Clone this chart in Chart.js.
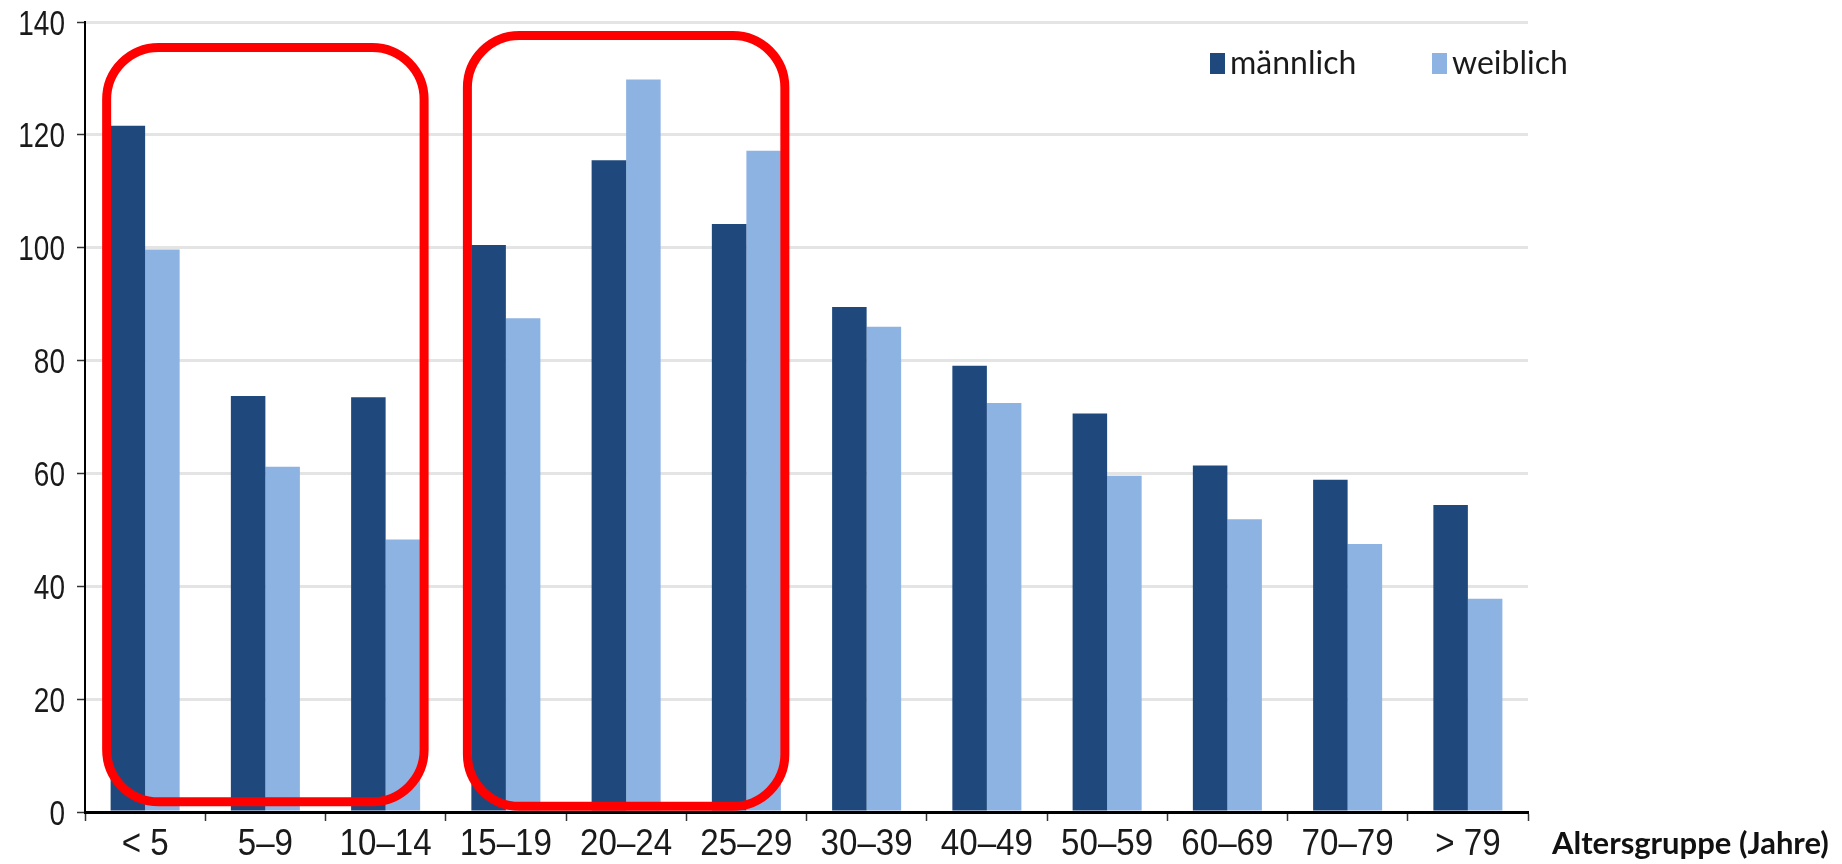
<!DOCTYPE html>
<html lang="de">
<head>
<meta charset="utf-8">
<title>Altersgruppe (Jahre)</title>
<script src="https://cdn.jsdelivr.net/npm/chart.js@4.4.1/dist/chart.umd.min.js"></script>
<style>
  html, body { margin: 0; padding: 0; background: #ffffff; }
  #wrap { position: relative; width: 1842px; height: 864px; }
</style>
</head>
<body>
<div id="wrap"><canvas id="chart"></canvas></div>
<script>
// Age groups and values per sex
const ageGroups = ['< 5', '5–9', '10–14', '15–19', '20–24', '25–29', '30–39', '40–49', '50–59', '60–69', '70–79', '> 79'];
const maleValues = [121.6, 73.7, 73.5, 100.5, 115.5, 104.2, 89.5, 79.1, 70.6, 61.4, 58.9, 54.4];
const femaleValues = [99.7, 61.2, 48.3, 87.5, 129.8, 117.2, 86.0, 72.5, 59.6, 51.9, 47.5, 37.8];
const seriesNames = ['männlich', 'weiblich'];
const yTicks = [0, 20, 40, 60, 80, 100, 120, 140];
const axisTitle = 'Altersgruppe (Jahre)';

// Highlighted age-group blocks: first/last group and the value span of the frame
const highlightFrom = ['< 5', '15–19'];
const highlightTo = ['10–14', '25–29'];
const highlightTop = [135.5, 137.6];
const highlightBottom = [1.8, 1.0];

const COLOR_MALE = '#1f497d';
const COLOR_FEMALE = '#8db3e2';
const TICK_FONT = "'Liberation Sans', Arial, sans-serif";
const TEXT_FONT = "Lato, 'Open Sans', sans-serif";

// Draws text squeezed horizontally (condensed look)
function fillNarrowText(ctx, text, x, y, align, stretch) {
  ctx.save();
  ctx.translate(x, y);
  ctx.scale(stretch, 1);
  ctx.textAlign = align;
  ctx.fillText(text, 0, 0);
  ctx.restore();
}

// Condensed tick labels for both axes, taken from the scales' own ticks
const narrowTicksPlugin = {
  id: 'narrowTicks',
  afterDraw(chart, args, opts) {
    const ctx = chart.ctx, xs = chart.scales.x, ys = chart.scales.y;
    ctx.save();
    ctx.fillStyle = opts.color;
    ctx.textBaseline = 'alphabetic';
    ctx.font = opts.ySize + 'px ' + opts.family;
    ys.ticks.forEach((t, i) => {
      const label = t.label != null ? String(t.label) : String(t.value);
      fillNarrowText(ctx, label, ys.right - opts.yGap, ys.getPixelForTick(i) + opts.capHalf, 'right', opts.yStretch);
    });
    ctx.font = opts.xSize + 'px ' + opts.family;
    xs.ticks.forEach((t, i) => {
      const label = xs.getLabelForValue(t.value);
      fillNarrowText(ctx, label, xs.getPixelForTick(i), xs.top + opts.xBaseline, 'center', opts.xStretch);
    });
    ctx.restore();
  }
};

// Rounded red frames around groups of categories
const highlightPlugin = {
  id: 'highlightFrames',
  afterDatasetsDraw(chart, args, opts) {
    const x = chart.scales.x, y = chart.scales.y, ctx = chart.ctx;
    ctx.save();
    ctx.strokeStyle = opts.color;
    ctx.lineWidth = opts.lineWidth;
    for (let i = 0; i < highlightFrom.length; i++) {
      const i0 = ageGroups.indexOf(highlightFrom[i]);
      const i1 = ageGroups.indexOf(highlightTo[i]);
      const left = x.getPixelForValue(i0 - 0.5 + opts.inset);
      const right = x.getPixelForValue(i1 + 0.5 - opts.inset);
      const top = y.getPixelForValue(highlightTop[i]);
      const bottom = y.getPixelForValue(highlightBottom[i]);
      ctx.beginPath();
      ctx.roundRect(left, top, right - left, bottom - top, opts.radius);
      ctx.stroke();
    }
    ctx.restore();
  }
};

// Legend drawn inside the plot area, top right
const innerLegendPlugin = {
  id: 'innerLegend',
  afterDraw(chart, args, opts) {
    const ctx = chart.ctx, area = chart.chartArea;
    ctx.save();
    ctx.font = opts.font;
    ctx.textBaseline = 'alphabetic';
    const xPos = area.right - opts.offsetRight;
    chart.data.datasets.forEach((ds, i) => {
      const x0 = xPos + i * opts.itemSpacing;
      ctx.fillStyle = ds.backgroundColor;
      ctx.fillRect(x0, area.top + opts.top, opts.boxWidth, opts.boxHeight);
      ctx.fillStyle = opts.textColor;
      ctx.fillText(ds.label, x0 + opts.boxWidth + opts.gap, area.top + opts.baseline);
    });
    ctx.restore();
  }
};

// Axis title placed to the right of the x axis, on the tick-label line
const axisTitlePlugin = {
  id: 'sideAxisTitle',
  afterDraw(chart, args, opts) {
    const ctx = chart.ctx, x = chart.scales.x;
    ctx.save();
    ctx.font = opts.font;
    ctx.fillStyle = opts.color;
    ctx.textBaseline = 'alphabetic';
    ctx.textAlign = 'left';
    ctx.fillText(opts.text, x.right + opts.offsetX, x.top + opts.offsetY);
    ctx.restore();
  }
};

new Chart(document.getElementById('chart'), {
  type: 'bar',
  data: {
    labels: ageGroups,
    datasets: [
      { label: seriesNames[0], data: maleValues, backgroundColor: COLOR_MALE },
      { label: seriesNames[1], data: femaleValues, backgroundColor: COLOR_FEMALE }
    ]
  },
  options: {
    responsive: true,
    maintainAspectRatio: false,
    animation: false,
    devicePixelRatio: 1,
    categoryPercentage: 0.574,
    barPercentage: 1.0,
    layout: { padding: { top: 22, right: 314, left: 0, bottom: 0 } },
    plugins: {
      legend: { display: false },
      tooltip: { enabled: false },
      narrowTicks: {
        family: TICK_FONT, color: '#1a1a1a',
        ySize: 35, yStretch: 0.8, yGap: 20, capHalf: 12.5,
        xSize: 36, xStretch: 0.92, xBaseline: 43
      },
      highlightFrames: { color: '#ff0000', lineWidth: 9, radius: 52, inset: 0.18 },
      innerLegend: {
        font: '32px ' + TEXT_FONT, textColor: '#1a1a1a',
        offsetRight: 318, itemSpacing: 222, top: 31, boxWidth: 15, boxHeight: 21, gap: 5, baseline: 52
      },
      sideAxisTitle: {
        text: axisTitle, font: 'bold 31px ' + TEXT_FONT, color: '#111111', offsetX: 24, offsetY: 42
      }
    },
    scales: {
      x: {
        grid: {
          offset: true,
          drawOnChartArea: false,
          drawTicks: true,
          tickLength: 9,
          tickColor: '#333333',
          tickWidth: 1.5
        },
        border: { display: true, color: '#000000', width: 3 },
        ticks: { display: false, autoSkip: false, maxRotation: 0 },
        afterFit(scale) { scale.height = 52; }
      },
      y: {
        min: 0,
        max: 140,
        afterBuildTicks(scale) { scale.ticks = yTicks.map(v => ({ value: v })); },
        grid: {
          color: '#e4e4e4',
          lineWidth: 3,
          drawTicks: true,
          tickLength: 8,
          tickColor: '#333333',
          tickWidth: 1.5
        },
        border: { display: true, color: '#000000', width: 2 },
        ticks: { display: false },
        afterFit(scale) { scale.width = 85; }
      }
    }
  },
  plugins: [highlightPlugin, narrowTicksPlugin, innerLegendPlugin, axisTitlePlugin]
});
</script>
</body>
</html>
